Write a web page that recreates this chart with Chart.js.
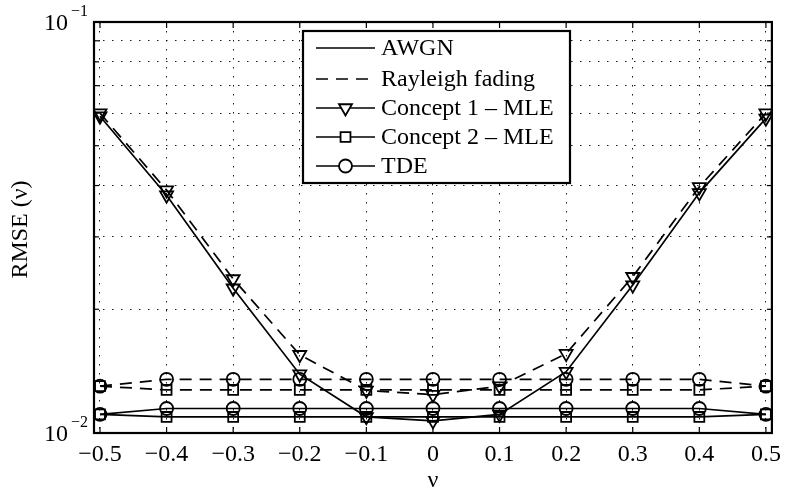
<!DOCTYPE html>
<html>
<head>
<meta charset="utf-8">
<script src="https://cdn.jsdelivr.net/npm/chart.js@4.4.1/dist/chart.umd.min.js"></script>
<style>
  html, body { margin: 0; padding: 0; background: #fff; }
  #wrap { width: 788px; height: 493px; }
</style>
</head>
<body>
<div id="wrap"><canvas id="rmseChart" width="788" height="493"></canvas></div>
<script>
// RMSE versus normalized offset nu, two channels, three estimators

const nu = [-0.5, -0.4, -0.3, -0.2, -0.1, 0, 0.1, 0.2, 0.3, 0.4, 0.5];

// Concept 1 - MLE
const c1Awgn = [0.0590, 0.0379, 0.0225, 0.0139, 0.01095, 0.0107, 0.0111, 0.0141, 0.0229, 0.0384, 0.0583];
const c1Ray  = [0.0600, 0.0390, 0.0237, 0.0155, 0.0127, 0.0124, 0.0130, 0.0156, 0.0240, 0.0397, 0.0600];
// Concept 2 - MLE
const c2Awgn = [0.0111, 0.01094, 0.01094, 0.01094, 0.01094, 0.01094, 0.01094, 0.01094, 0.01094, 0.01094, 0.0111];
const c2Ray  = [0.0130, 0.01273, 0.01273, 0.01273, 0.01273, 0.01273, 0.01273, 0.01273, 0.01273, 0.01273, 0.0130];
// TDE
const tdeAwgn = [0.0111, 0.01147, 0.01147, 0.01147, 0.01147, 0.01147, 0.01147, 0.01147, 0.01147, 0.01147, 0.0111];
const tdeRay  = [0.0130, 0.01351, 0.01351, 0.01351, 0.01351, 0.01351, 0.01351, 0.01351, 0.01351, 0.01351, 0.0130];

const xTicks = [-0.5, -0.4, -0.3, -0.2, -0.1, 0, 0.1, 0.2, 0.3, 0.4, 0.5];
const yGrid = [0.01, 0.02, 0.03, 0.04, 0.05, 0.06, 0.07, 0.08, 0.09, 0.1];
const yLabels = [0.01, 0.1];
const yExponents = ['\u22122', '\u22121'];

const legendItems = [
    { text: 'AWGN', dash: [], marker: null },
    { text: 'Rayleigh fading', dash: [12, 8], marker: null },
    { text: 'Concept 1 \u2013 MLE', dash: [], marker: { pointStyle: 'triangle', radius: 7.5, rotation: 180 } },
    { text: 'Concept 2 \u2013 MLE', dash: [], marker: { pointStyle: 'rect', radius: 7, rotation: 0 } },
    { text: 'TDE', dash: [], marker: { pointStyle: 'circle', radius: 6.5, rotation: 0 } }
];

const SERIF = '"Liberation Serif", "Times New Roman", serif';
const DASH = [12, 8];
const LW = 1.7;

function pts(arr) {
    return nu.map((v, i) => ({ x: v, y: arr[i] }));
}

function series(arr, dashed, style, radius, rotation) {
    return {
        data: pts(arr),
        borderColor: '#000',
        borderWidth: LW,
        borderDash: dashed ? DASH : [],
        pointStyle: style,
        pointRadius: radius,
        pointRotation: rotation,
        pointBorderWidth: 1.8,
        pointBorderColor: '#000',
        pointBackgroundColor: 'rgba(0,0,0,0)',
        tension: 0,
        fill: false
    };
}

const framePlugin = {
    id: 'frame',
    afterDraw(chart) {
        const { ctx, chartArea: a, scales: { x, y } } = chart;
        const line = (x1, y1, x2, y2) => {
            ctx.beginPath(); ctx.moveTo(x1, y1); ctx.lineTo(x2, y2); ctx.stroke();
        };
        ctx.save();
        ctx.strokeStyle = '#000';
        ctx.fillStyle = '#000';
        ctx.setLineDash([]);

        // inward tick marks
        ctx.lineWidth = 1.2;
        xTicks.forEach(v => {
            const px = x.getPixelForValue(v);
            line(px, a.bottom, px, a.bottom - 6);
            line(px, a.top, px, a.top + 6);
        });
        yGrid.forEach(v => {
            const py = y.getPixelForValue(v);
            line(a.left, py, a.left + 5, py);
            line(a.right, py, a.right - 5, py);
        });

        // frame
        ctx.lineWidth = 2.2;
        ctx.strokeRect(a.left, a.top, a.right - a.left, a.bottom - a.top);

        // y tick labels, 10 with superscript exponent
        yLabels.forEach((v, i) => {
            const py = y.getPixelForValue(v);
            ctx.font = '24px ' + SERIF;
            ctx.textAlign = 'right';
            ctx.textBaseline = 'middle';
            ctx.fillText('10', 68, py + 2);
            ctx.font = '16px ' + SERIF;
            ctx.textAlign = 'left';
            ctx.fillText(yExponents[i], 71, py - 10);
        });

        // axis titles
        ctx.font = '24px ' + SERIF;
        ctx.textAlign = 'center';
        ctx.textBaseline = 'middle';
        ctx.fillText('\u03bd', (a.left + a.right) / 2, 481);
        ctx.save();
        ctx.translate(21, (a.top + a.bottom) / 2 + 2);
        ctx.rotate(-Math.PI / 2);
        ctx.fillText('RMSE (\u03bd)', 0, 0);
        ctx.restore();

        // legend box
        const bx = 303, by = 31, bw = 267, bh = 152;
        ctx.fillStyle = '#fff';
        ctx.fillRect(bx, by, bw, bh);
        ctx.lineWidth = 2.2;
        ctx.strokeRect(bx, by, bw, bh);
        const rowY = [48, 79, 108, 137, 166];
        legendItems.forEach((it, i) => {
            const ry = rowY[i];
            ctx.lineWidth = LW;
            ctx.setLineDash(it.dash);
            line(316, ry, 375, ry);
            ctx.setLineDash([]);
            if (it.marker) {
                ctx.fillStyle = '#fff';
                ctx.lineWidth = 1.8;
                Chart.helpers.drawPoint(ctx, { ...it.marker, borderWidth: 1.8 }, 345.5, ry);
            }
            ctx.fillStyle = '#000';
            ctx.font = '24px ' + SERIF;
            ctx.textAlign = 'left';
            ctx.textBaseline = 'middle';
            ctx.fillText(it.text, 381, ry + 1);
        });
        ctx.restore();
    }
};

new Chart(document.getElementById('rmseChart').getContext('2d'), {
    type: 'line',
    data: {
        datasets: [
            series(c1Awgn, false, 'triangle', 7.5, 180),
            series(c1Ray, true, 'triangle', 7.5, 180),
            series(c2Awgn, false, 'rect', 7, 0),
            series(c2Ray, true, 'rect', 7, 0),
            series(tdeAwgn, false, 'circle', 6.5, 0),
            series(tdeRay, true, 'circle', 6.5, 0)
        ]
    },
    options: {
        responsive: false,
        animation: false,
        layout: { padding: { top: 22, right: 10, left: 0, bottom: 0 } },
        plugins: { legend: { display: false }, tooltip: { enabled: false } },
        scales: {
            x: {
                type: 'linear',
                min: -0.509,
                max: 0.509,
                afterBuildTicks: s => { s.ticks = xTicks.map(v => ({ value: v })); },
                afterFit: s => { s.height = 60; },
                grid: { color: '#000', lineWidth: 0.9, drawTicks: false },
                border: { display: false, dash: [1.5, 7.5] },
                ticks: {
                    autoSkip: false,
                    maxRotation: 0,
                    padding: 7,
                    color: '#000',
                    font: { family: SERIF, size: 24 },
                    callback: v => v === 0 ? '0' : (v < 0 ? '\u2212' : '') + Math.abs(v).toFixed(1)
                }
            },
            y: {
                type: 'logarithmic',
                min: 0.01,
                max: 0.1,
                afterBuildTicks: s => { s.ticks = yGrid.map(v => ({ value: v })); },
                afterFit: s => { s.width = 94; },
                grid: { color: '#000', lineWidth: 0.9, drawTicks: false },
                border: { display: false, dash: [1.5, 7.5] },
                ticks: { display: false }
            }
        }
    },
    plugins: [framePlugin]
});
</script>
</body>
</html>
